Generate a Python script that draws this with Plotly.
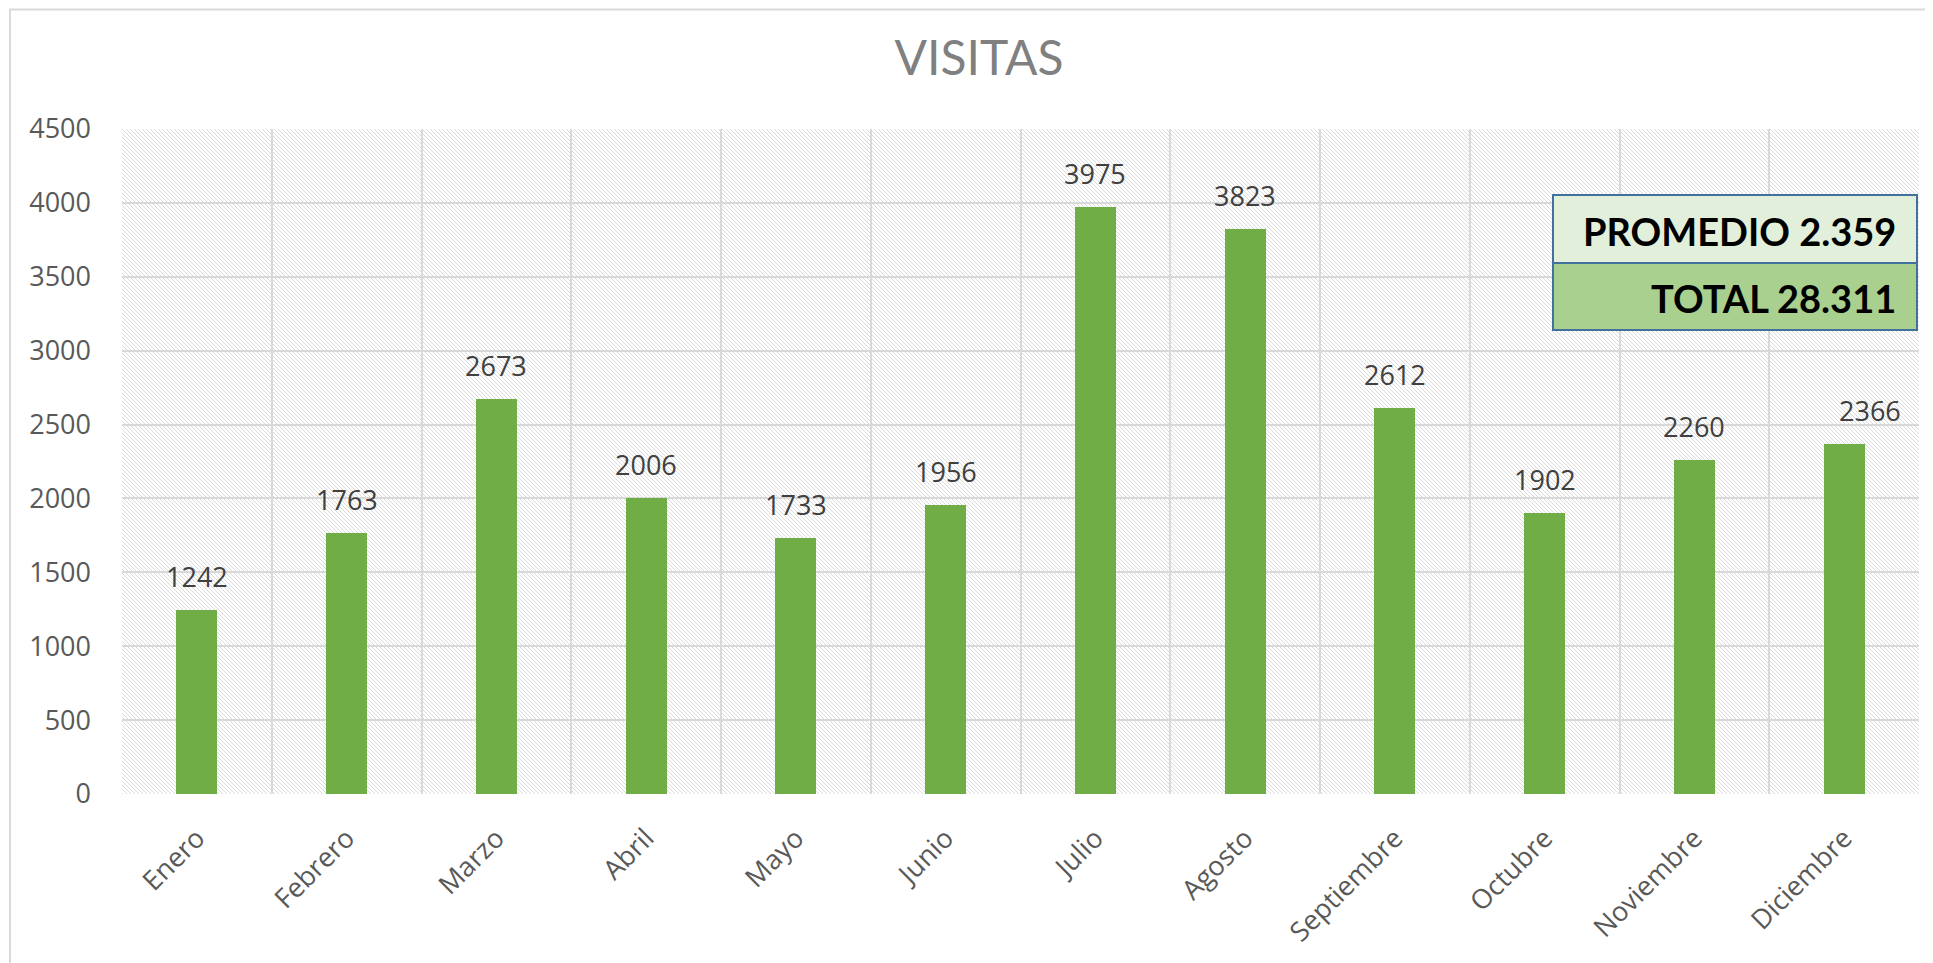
import base64
import plotly.graph_objects as go

# datos del grafico
meses = ["Enero", "Febrero", "Marzo", "Abril", "Mayo", "Junio", "Julio",
         "Agosto", "Septiembre", "Octubre", "Noviembre", "Diciembre"]
visitas = [1242, 1763, 2673, 2006, 1733, 1956, 3975, 3823, 2612, 1902, 2260, 2366]
promedio_txt = "PROMEDIO 2.359"
total_txt = "TOTAL 28.311"
y_ticks = [0, 500, 1000, 1500, 2000, 2500, 3000, 3500, 4000, 4500]

# la pagina tiene 8px de margen en el body
OFF = 8
W, H = 1933 - OFF, 963 - OFF
ML, MR, MT, MB = 122 - OFF, 14, 129 - OFF, 169
PW, PH = W - ML - MR, H - MT - MB

FONT = "Lato"
TICKFONT = "Open Sans"

# fondo rayado (trama diagonal tipo Excel)
svg = (
    f'<svg xmlns="http://www.w3.org/2000/svg" width="{PW}" height="{PH}" '
    f'viewBox="0 0 {PW} {PH}" preserveAspectRatio="none">'
    '<defs><pattern id="p" width="4" height="4" patternUnits="userSpaceOnUse">'
    '<rect width="4" height="4" fill="white"/>'
    '<path d="M-1,-1 L5,5 M-1,3 L1,5 M3,-1 L5,1" stroke="#dadada" stroke-width="1" '
    'shape-rendering="crispEdges"/>'
    '</pattern></defs>'
    f'<rect width="{PW}" height="{PH}" fill="url(#p)"/></svg>'
)
bg_src = "data:image/svg+xml;base64," + base64.b64encode(svg.encode()).decode()

x_idx = list(range(len(meses)))

fig = go.Figure()
fig.add_trace(go.Bar(
    x=x_idx, y=visitas, width=0.275,
    marker=dict(color="#70ad47", line=dict(width=0)),
    hoverinfo="skip",
))

# etiquetas de datos
for i, v in enumerate(visitas):
    fig.add_annotation(
        x=i, y=v, text=str(v), showarrow=False,
        yanchor="bottom", yshift=13,
        xshift=26 if i == len(visitas) - 1 else 0,
        font=dict(family=TICKFONT, size=27, color="#404040"),
    )

def px_x(p):
    return (p - OFF - ML) / PW

def px_y(p):
    return (OFF + H - MB - p) / PH

# cuadro de promedio / total
box_l, box_r = px_x(1553), px_x(1917)
box_t, box_m, box_b = px_y(195), px_y(263), px_y(330)
fig.add_shape(type="rect", xref="paper", yref="paper",
              x0=box_l, x1=box_r, y0=box_m, y1=box_t,
              fillcolor="#e2efda", line=dict(color="#41719c", width=2), layer="above")
fig.add_shape(type="rect", xref="paper", yref="paper",
              x0=box_l, x1=box_r, y0=box_b, y1=box_m,
              fillcolor="#a9d08e", line=dict(color="#41719c", width=2), layer="above")
fig.add_annotation(xref="paper", yref="paper", x=px_x(1898), y=px_y(231),
                   text=f"<b>{promedio_txt}</b>", showarrow=False,
                   xanchor="right", yanchor="middle",
                   font=dict(family=FONT, size=38, color="black"))
fig.add_annotation(xref="paper", yref="paper", x=px_x(1898), y=px_y(298),
                   text=f"<b>{total_txt}</b>", showarrow=False,
                   xanchor="right", yanchor="middle",
                   font=dict(family=FONT, size=38, color="black"))

# borde del area del grafico
fig.add_shape(type="rect", xref="paper", yref="paper",
              x0=px_x(10), x1=1.2, y0=-0.4, y1=px_y(OFF + 1.5),
              line=dict(color="#d9d9d9", width=2), fillcolor="rgba(0,0,0,0)")

fig.add_layout_image(dict(
    source=bg_src, xref="paper", yref="paper", x=0, y=1,
    sizex=1, sizey=1, sizing="stretch", xanchor="left", yanchor="top",
    layer="below",
))

fig.update_layout(
    width=W, height=H,
    margin=dict(l=ML, r=MR, t=MT, b=MB, pad=0),
    paper_bgcolor="white", plot_bgcolor="rgba(0,0,0,0)",
    showlegend=False,
    title=dict(text="VISITAS", x=(979 - OFF) / W, xanchor="center",
               y=1 - (58 - OFF) / H, yanchor="middle",
               font=dict(family=FONT, size=48, color="#808080")),
    bargap=0,
)
fig.update_xaxes(
    range=[-0.5, 11.5], tickmode="array", tickvals=x_idx, ticktext=meses,
    tickangle=-45, showgrid=False, zeroline=False, showline=False,
    ticks="", ticklabelstandoff=22,
    tickfont=dict(family=TICKFONT, size=27, color="#595959"),
    minor=dict(tickmode="array", tickvals=[i - 0.5 for i in range(len(meses) + 1)],
               showgrid=True, gridcolor="#d9d9d9", gridwidth=2, ticks=""),
)
fig.update_yaxes(
    range=[0, 4500], tickmode="array", tickvals=y_ticks,
    showgrid=True, gridcolor="#d9d9d9", gridwidth=2,
    zeroline=False, showline=False, ticks="", ticklabelstandoff=30,
    tickfont=dict(family=TICKFONT, size=27, color="#595959"),
)

fig.write_html("out.html")
